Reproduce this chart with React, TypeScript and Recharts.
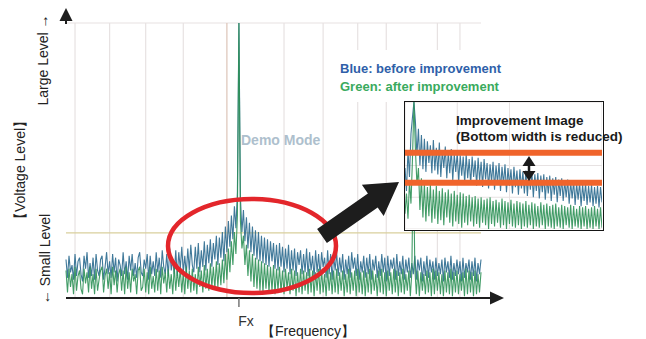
import { ComposedChart, Line, XAxis, YAxis, CartesianGrid, ReferenceLine } from 'recharts'

// spectrum bins, ~1.5px each; the carrier sits at FX_BIN
const FX_BIN = 115
const LAST_BIN = 276
const Y_TICKS = [0, 10, 20, 30, 40, 50, 60, 70, 80, 90, 100, 110, 120, 130, 140, 150]
const GRID_BINS = [6, 29, 53, 78, 145, 171, 194, 213, 247, 262]
const MARKER_BIN = 107
const MARKER_LEVEL = 35.5

// noise traces (level units 0..150)
const BLUE_BEFORE = [
  21, 11, 23, 14, 18, 10, 24, 12, 20, 22, 13, 9, 23, 16, 25, 11, 19, 12, 22, 10,
  24, 15, 12, 21, 23, 10, 17, 25, 13, 20, 11, 24, 14, 22, 9, 21, 18, 12, 25, 13,
  20, 10, 23, 15, 24, 12, 19, 11, 22, 25, 14, 12, 21, 16, 24, 10, 23, 13, 20, 12,
  25, 14, 22, 11, 26, 17, 13, 24, 12, 27, 15, 21, 13, 26, 12, 25, 16, 28, 14, 23,
  13, 27, 15, 29, 18, 14, 28, 16, 30, 14, 26, 17, 31, 15, 29, 19, 32, 17, 30, 21,
  34, 18, 33, 22, 36, 20, 39, 25, 42, 28, 45, 32, 50, 38, 58, 150, 55, 36, 48, 31,
  44, 27, 41, 25, 39, 23, 37, 21, 36, 20, 34, 19, 33, 18, 32, 17, 31, 20, 30, 16,
  29, 15, 30, 17, 28, 14, 27, 16, 29, 13, 26, 15, 27, 12, 25, 18, 26, 13, 24, 14,
  27, 12, 25, 15, 23, 11, 26, 14, 24, 12, 25, 17, 22, 11, 26, 13, 24, 10, 23, 15,
  25, 12, 22, 14, 24, 10, 21, 13, 23, 11, 25, 16, 22, 12, 24, 10, 20, 14, 23, 11,
  22, 13, 24, 10, 21, 15, 23, 11, 20, 12, 24, 14, 22, 9, 23, 12, 21, 16, 22, 10,
  24, 12, 20, 13, 23, 10, 21, 14, 22, 11, 19, 13, 23, 10, 21, 15, 22, 9, 20, 12,
  23, 11, 21, 14, 20, 10, 22, 12, 19, 13, 21, 9, 22, 14, 20, 11, 23, 10, 19, 12,
  21, 13, 20, 9, 22, 11, 19, 14, 21, 10, 20, 12, 22, 9, 19, 13, 21,
]
const GREEN_AFTER = [
  15, 3, 16, 6, 13, 2, 17, 4, 12, 15, 5, 2, 16, 8, 14, 3, 17, 5, 13, 2,
  16, 4, 10, 15, 17, 3, 12, 16, 5, 14, 2, 17, 7, 15, 3, 13, 16, 4, 15, 2,
  17, 5, 14, 3, 16, 9, 13, 2, 15, 17, 4, 6, 16, 3, 14, 2, 17, 5, 12, 3,
  16, 4, 15, 2, 17, 8, 14, 3, 16, 5, 13, 2, 17, 4, 15, 6, 16, 3, 14, 2,
  17, 5, 15, 3, 16, 4, 13, 2, 17, 6, 15, 3, 18, 5, 16, 4, 19, 6, 17, 5,
  20, 6, 19, 7, 21, 8, 24, 10, 27, 14, 31, 18, 36, 24, 45, 150, 42, 27, 34, 18,
  29, 12, 26, 9, 24, 6, 22, 5, 21, 4, 20, 3, 19, 5, 18, 3, 17, 4, 18, 2,
  16, 4, 17, 3, 15, 2, 16, 5, 14, 2, 16, 4, 15, 1, 14, 3, 16, 2, 15, 4,
  14, 2, 16, 3, 15, 1, 14, 4, 16, 2, 15, 3, 13, 1, 16, 4, 14, 2, 15, 3,
  16, 2, 14, 4, 15, 1, 13, 3, 16, 2, 14, 4, 15, 1, 16, 3, 14, 2, 15, 1,
  14, 3, 16, 2, 15, 4, 13, 1, 15, 3, 16, 2, 14, 1, 15, 4, 14, 2, 16, 3,
  15, 1, 14, 3, 16, 2, 13, 4, 15, 1, 14, 80, 16, 2, 15, 1, 14, 4, 13, 2,
  15, 3, 14, 1, 16, 2, 15, 4, 14, 2, 13, 1, 15, 3, 14, 2, 16, 1, 14, 3,
  15, 2, 13, 4, 14, 1, 16, 2, 15, 3, 14, 1, 15, 2, 13, 3, 14,
]

// zoomed view near the carrier (level units 0..100)
const INSET_LAST_BIN = 132
const INSET_BLUE = [
  48, 30, 62, 41, 75, 88, 100, 84, 58, 79, 50, 74, 47, 71, 45, 69, 52, 66, 44, 70,
  46, 64, 43, 68, 41, 62, 48, 65, 40, 61, 44, 63, 38, 59, 45, 60, 37, 58, 42, 57,
  36, 59, 40, 55, 35, 57, 41, 54, 34, 56, 38, 53, 33, 55, 39, 52, 32, 51, 37, 53,
  31, 50, 36, 52, 30, 49, 35, 51, 29, 48, 34, 47, 28, 49, 33, 46, 27, 47, 32, 45,
  28, 46, 26, 44, 31, 45, 25, 43, 30, 44, 24, 42, 29, 43, 23, 41, 28, 42, 22, 40,
  27, 41, 21, 39, 26, 40, 22, 38, 25, 39, 20, 37, 24, 38, 19, 36, 23, 37, 18, 35,
  22, 36, 19, 34, 21, 35, 18, 33, 20, 34, 17, 33, 21,
]
const INSET_GREEN = [
  12, 28, 8, 38, 20, 55, 100, 62, 35, 48, 15, 40, 9, 36, 6, 33, 10, 35, 5, 31,
  8, 34, 4, 30, 7, 32, 3, 29, 9, 31, 5, 28, 2, 30, 6, 27, 4, 29, 1, 28,
  5, 26, 3, 27, 6, 25, 2, 26, 4, 24, 1, 25, 5, 23, 3, 24, 0, 25, 4, 22,
  2, 23, 5, 21, 1, 24, 3, 22, 0, 21, 4, 23, 2, 20, 1, 22, 3, 21, 0, 20,
  2, 22, 1, 19, 3, 21, 0, 20, 2, 18, 1, 21, 3, 19, 0, 20, 2, 18, 1, 19,
  0, 20, 2, 17, 1, 19, 0, 18, 3, 17, 1, 19, 0, 18, 2, 16, 1, 18, 0, 17,
  2, 18, 0, 16, 1, 17, 0, 18, 2, 16, 0, 17, 1,
]
const BOTTOM_LEVELS = [60, 36.5]

const LEGEND_LINES = ['Blue: before improvement', 'Green: after improvement']
const INSET_TITLE = ['Improvement Image', '(Bottom width is reduced)']

const BLUE = '#2b6a8f'
const GREEN = '#2e9156'
const GRID = '#e7e2e2'
const FONT = '"Liberation Sans", Arial, sans-serif'

const mainData = BLUE_BEFORE.map((v, i) => ({ bin: i, blue: v, green: GREEN_AFTER[i] }))
const insetData = INSET_BLUE.map((v, i) => ({ bin: i, blue: v, green: INSET_GREEN[i] }))

const FxTick = ({ x, y }: any) => (
  <text x={x + 7} y={y + 17} textAnchor="middle" fontSize={14} fill="#333" fontFamily={FONT}>
    Fx
  </text>
)

export default function App() {
  return (
    <div style={{ position: 'absolute', left: 0, top: 0, width: 646, height: 339, background: '#fff', fontFamily: FONT }}>
      <div style={{ position: 'absolute', left: 0, top: 0 }}>
        <ComposedChart width={646} height={339} data={mainData} margin={{ top: 23, right: 165, bottom: 0, left: 66 }}>
          <CartesianGrid vertical={false} stroke={GRID} strokeWidth={1.2} />
          {GRID_BINS.map((b) => (
            <ReferenceLine key={b} x={b} stroke={GRID} strokeWidth={1.2} />
          ))}
          <ReferenceLine x={MARKER_BIN} stroke="#dcc4b8" strokeWidth={1.2} />
          <ReferenceLine y={MARKER_LEVEL} stroke="#d9cf9c" strokeWidth={1.2} />
          <XAxis
            type="number"
            dataKey="bin"
            domain={[0, LAST_BIN]}
            ticks={[FX_BIN]}
            tick={<FxTick />}
            height={41}
            tickSize={9}
            axisLine={{ stroke: '#1e1e1e', strokeWidth: 2 }}
            tickLine={{ stroke: '#777', strokeWidth: 1.5 }}
          />
          <YAxis
            type="number"
            domain={[0, 150]}
            ticks={Y_TICKS}
            width={0}
            tick={false}
            tickLine={false}
            axisLine={{ stroke: '#1e1e1e', strokeWidth: 2 }}
          />
          <Line dataKey="blue" type="linear" stroke={BLUE} strokeWidth={1.1} strokeOpacity={0.9} dot={false} isAnimationActive={false} />
          <Line dataKey="green" type="linear" stroke={GREEN} strokeWidth={1.1} strokeOpacity={0.9} dot={false} isAnimationActive={false} />
        </ComposedChart>
      </div>

      <svg width={646} height={339} style={{ position: 'absolute', left: 0, top: 0, pointerEvents: 'none' }} fontFamily={FONT}>
        <rect x={325} y={50} width={160} height={52} fill="#fff" />
        {/* axis arrow heads */}
        <line x1={66} y1={24} x2={66} y2={16} stroke="#1e1e1e" strokeWidth={2} />
        <polygon points="66,8 59.5,21 72.5,21" fill="#1e1e1e" />
        <line x1={480} y1={298} x2={492} y2={298} stroke="#1e1e1e" strokeWidth={2} />
        <polygon points="504,298 490,291.5 490,304.5" fill="#1e1e1e" />

        <text x={241} y={145} fontSize={14} fontWeight="bold" fill="#aebfcd">Demo Mode</text>

        <ellipse cx={252} cy={246} rx={84} ry={47} fill="none" stroke="#e3262b" strokeWidth={4.5} />
        <g transform="translate(322,236) rotate(-35)">
          <polygon points="0,-8.5 62,-8.5 62,-19 94,0 62,19 62,8.5 0,8.5" fill="#1d1d1d" />
        </g>

        <text x={340} y={73} fontSize={13} fontWeight="bold" fill="#2f5fa9">{LEGEND_LINES[0]}</text>
        <text x={340} y={91} fontSize={13} fontWeight="bold" fill="#3aaa5d">{LEGEND_LINES[1]}</text>

        <text transform="translate(48,60) rotate(-90)" textAnchor="middle" fontSize={14} fill="#222">Large Level →</text>
        <text transform="translate(25,170) rotate(-90)" textAnchor="middle" fontSize={14} fill="#222">【Voltage Level】</text>
        <text transform="translate(50,259) rotate(-90)" textAnchor="middle" fontSize={14} fill="#222">← Small Level</text>
        <text x={308} y={336} textAnchor="middle" fontSize={14} fill="#222">【Frequency】</text>
      </svg>

      <div style={{ position: 'absolute', left: 404, top: 101, width: 200, height: 130, border: '1.5px solid #151515', boxSizing: 'border-box', background: '#fff' }}>
        <ComposedChart width={197} height={127} data={insetData} margin={{ top: 0, right: 0, bottom: 0, left: 0 }}>
          <CartesianGrid stroke={GRID} strokeWidth={1} />
          <XAxis type="number" dataKey="bin" domain={[0, INSET_LAST_BIN]} hide />
          <YAxis type="number" domain={[0, 100]} hide />
          <Line dataKey="blue" type="linear" stroke={BLUE} strokeWidth={1.1} strokeOpacity={0.9} dot={false} isAnimationActive={false} />
          <Line dataKey="green" type="linear" stroke={GREEN} strokeWidth={1.1} strokeOpacity={0.9} dot={false} isAnimationActive={false} />
          {BOTTOM_LEVELS.map((lv) => (
            <ReferenceLine key={lv} y={lv} stroke="#f0642b" strokeWidth={6} />
          ))}
        </ComposedChart>
      </div>

      <svg width={646} height={339} style={{ position: 'absolute', left: 0, top: 0, pointerEvents: 'none' }} fontFamily={FONT}>
        <text x={456} y={125} fontSize={13.5} fontWeight="bold" fill="#1a1a1a">{INSET_TITLE[0]}</text>
        <text x={456} y={141} fontSize={13.5} fontWeight="bold" fill="#1a1a1a">{INSET_TITLE[1]}</text>
        <line x1={529} y1={163} x2={529} y2={174} stroke="#1a1a1a" strokeWidth={2.5} />
        <polygon points="529,156 522.5,166 535.5,166" fill="#1a1a1a" />
        <polygon points="529,181 522.5,171 535.5,171" fill="#1a1a1a" />
      </svg>
    </div>
  )
}
